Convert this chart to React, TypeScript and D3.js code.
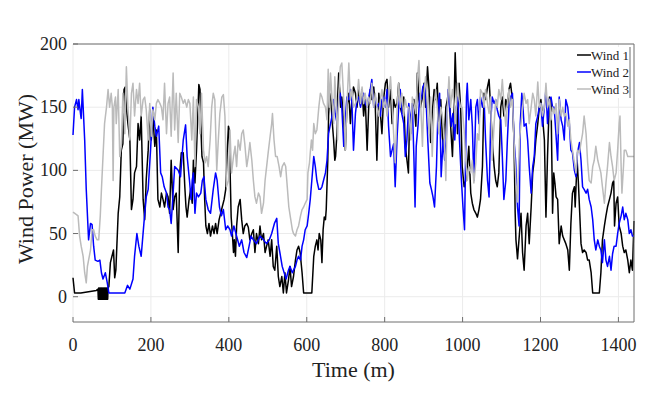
import React from "react";
import * as d3 from "d3";

const xTicks = [0, 200, 400, 600, 800, 1000, 1200, 1400];
const yTicks = [0, 50, 100, 150, 200];
const seriesNames = ["Wind 1", "Wind 2", "Wind 3"];
const seriesColors = ["#000000", "#0000ff", "#bbbbbb"];

const wind1: [number, number][] = [
  [0,15],[4,3],[20,3],[40,4],[60,5],[64,6],
  [65,-2],[66,7],[67,-2],[68,7],[69,-2],[70,7],[71,-2],[72,7],[73,-2],[74,7],[75,-2],[76,7],[77,-2],[78,7],[79,-2],[80,7],[81,-2],[82,7],[83,-2],[84,7],[85,-2],[86,7],[87,-2],[88,7],[89,-2],[90,7],
  [92,8],[96,27],[100,32],[104,37],[107,15],[110,21],[116,66],[120,79],[124,116],[128,121],[131,164],[134,166],[137,150],[141,137],[146,124],[150,69],[154,77],[158,98],[163,103],[167,137],[171,124],[175,143],[180,77],[184,61],[188,93],[193,116],[197,148],[201,124],[205,143],[210,119],[214,132],[218,77],[223,71],[227,82],[231,77],[235,71],[240,82],[244,79],[248,66],[252,108],[257,69],[261,79],[265,82],[270,35],[274,98],[278,114],
  [283,114],[287,87],[290,71],[293,63],[298,77],[302,85],[306,74],[309,108],[313,90],[317,116],[320,140],[323,168],[326,164],[328,137],[331,111],[335,106],[338,77],[341,56],[345,50],[349,58],[353,48],[358,56],[362,50],[366,58],[370,50],[375,61],[379,66],[383,71],[388,77],[392,85],[396,116],[399,135],[401,132],[403,103],[406,63],[409,50],[412,35],[414,45],[417,32],[420,56],[424,71],[429,77],[433,61],[437,50],[441,56],[446,58],[450,55],[454,45],[459,50],[463,53],[467,35],[471,50],[476,42],[480,56],[484,45],[489,50],[493,35],[497,40],[501,45],[506,32],[510,45],[514,24],[518,21],[523,40],[527,16],[531,8],[536,16],[540,3],[544,19],[548,3],[553,13],[557,24],[561,8],[566,16],[571,29],[575,37],[579,40],[583,35],[588,19],[592,3],[613,3],
  [618,32],[622,40],[626,45],[629,37],[632,50],[636,45],[639,27],[642,53],[645,63],[648,61],[650,69],[654,108],[656,143],[659,161],[662,156],[665,140],[669,124],[672,108],[674,111],[677,127],[679,156],[682,177],[685,161],[687,150],[690,158],[695,137],[699,116],[703,150],[708,161],[712,137],[716,156],[720,166],[725,161],[729,150],[733,164],[738,153],[742,164],[746,143],[750,158],[755,116],[759,150],[763,164],[767,156],[772,166],[776,150],[780,108],[785,161],[789,145],[793,129],[797,156],[802,169],[806,172],[810,150],[815,164],[819,137],[823,156],[827,150],[832,153],[836,169],[840,150],[844,145],[849,158],[853,119],
  [858,106],[861,98],[864,143],[867,129],[871,150],[875,156],[880,135],[884,177],[888,156],[892,150],[897,158],[901,169],[905,150],[910,182],[914,164],[918,122],[922,145],[927,164],[931,156],[935,169],[939,137],[944,156],[948,127],[952,116],[957,150],[961,156],[965,166],[969,137],[974,111],[978,150],[981,193],[984,164],[987,129],[991,169],[995,150],[999,103],[1004,87],[1008,92],[1012,103],[1016,119],[1021,82],[1025,74],[1029,69],[1034,66],[1038,63],[1042,69],[1046,77],[1051,103],[1055,161],[1059,156],[1064,166],[1068,172],[1072,150],[1076,124],[1081,103],[1085,92],[1089,87],[1093,98],[1098,150],[1102,158],[1106,143],[1111,156],[1115,150],[1119,164],[1123,169],[1128,156],[1132,124],[1135,66],[1137,45],[1141,30],
  [1146,50],[1150,66],[1154,35],[1158,21],[1163,56],[1167,66],[1171,42],[1176,71],[1180,98],[1184,108],[1188,124],[1193,137],[1197,150],[1201,156],[1205,143],[1210,124],[1214,63],[1218,111],[1223,158],[1227,156],[1231,66],[1234,98],[1237,90],[1240,79],[1244,77],[1248,42],[1253,56],[1257,48],[1261,45],[1265,42],[1270,37],[1274,21],[1278,58],[1282,82],[1287,87],[1289,71],[1294,108],[1297,92],[1300,71],[1304,42],[1308,35],[1312,37],[1317,35],[1321,29],[1325,29],[1330,19],[1334,3],[1351,3],[1355,19],[1359,45],[1364,56],[1368,64],[1372,71],[1377,77],[1381,82],[1385,90],[1388,92],[1390,56],[1394,74],[1398,79],[1402,56],[1407,50],[1411,40],[1415,35],[1419,37],[1424,29],[1428,19],[1432,29],[1436,21],[1440,60]
];

const wind2: [number, number][] = [
  [0,128],[4,150],[9,156],[13,148],[15,156],[20,143],[21,141],[24,164],[30,124],[34,85],[40,45],[45,58],[49,57],[53,40],[57,29],[64,28],[69,29],[73,19],[77,14],[83,19],[88,11],[92,3],[133,3],[140,9],[146,6],[154,14],[158,32],[164,50],[169,40],[175,32],[182,58],[188,79],[193,85],[199,116],[205,150],[210,135],[214,127],[220,135],[225,98],[229,95],[234,87],[240,82],[244,71],[248,69],[252,58],[257,82],[261,103],[270,100],[276,95],
  [283,124],[289,136],[293,111],[299,92],[303,77],[306,92],[309,98],[313,66],[317,82],[322,79],[328,82],[332,92],[336,95],[341,77],[347,69],[353,66],[360,85],[366,98],[370,92],[376,71],[381,64],[386,69],[392,53],[397,56],[403,53],[407,48],[413,56],[420,48],[427,40],[433,45],[439,35],[446,31],[452,40],[457,48],[463,45],[471,42],[480,48],[489,45],[497,42],[504,45],[510,50],[517,58],[523,62],[527,42],[531,35],[537,24],[542,19],[547,14],[553,21],[557,24],[563,19],
  [566,21],[571,24],[575,29],[579,32],[584,29],[588,40],[592,45],[596,53],[601,56],[605,66],[609,77],[613,92],[618,111],[622,103],[626,92],[631,85],[635,85],[639,87],[643,92],[648,98],[652,108],[656,129],[661,137],[665,143],[669,156],[673,145],[678,137],[682,156],[686,161],[690,150],[695,119],[699,140],[703,158],[708,156],[712,164],[716,153],[720,116],[725,145],[729,156],[733,158],[738,150],[742,156],[746,161],[750,153],[755,150],[759,158],[763,164],[767,172],[772,150],[776,158],[780,150],[785,153],[789,143],[793,156],[797,158],[802,150],[806,164],[810,135],[815,111],[819,116],[823,121],[827,87],[832,127],[836,150],[840,164],[844,145],[849,137],[853,111],[857,124],
  [862,153],[867,137],[871,153],[875,111],[878,71],[881,119],[886,137],[890,161],[894,156],[898,166],[903,169],[907,150],[911,122],[916,90],[920,85],[924,79],[928,71],[933,103],[937,150],[941,161],[945,95],[950,124],[954,108],[958,124],[963,164],[967,150],[971,135],[975,145],[980,124],[984,150],[988,158],[992,124],[997,92],[1001,71],[1005,53],[1010,158],[1012,169],[1016,140],[1021,156],[1025,135],[1029,92],[1034,150],[1038,156],[1042,137],[1046,158],[1051,150],[1055,158],[1059,124],[1064,92],[1068,79],[1072,137],[1076,158],[1081,153],[1085,156],[1089,148],[1093,143],[1098,140],[1102,111],[1106,77],[1111,92],[1115,124],[1119,150],[1123,158],[1128,161],[1132,124],[1136,108],[1141,71],[1145,56],
  [1148,137],[1152,161],[1155,150],[1158,135],[1163,137],[1167,124],[1171,103],[1176,82],[1180,103],[1184,111],[1188,137],[1193,143],[1197,150],[1201,153],[1205,135],[1210,150],[1214,164],[1218,137],[1223,156],[1227,158],[1231,150],[1235,150],[1240,127],[1244,108],[1248,158],[1253,140],[1257,135],[1261,124],[1265,156],[1270,150],[1274,137],[1278,116],[1282,114],[1287,100],[1291,95],[1295,114],[1300,122],[1304,108],[1308,87],[1312,85],[1317,82],[1321,85],[1325,77],[1330,71],[1334,61],[1338,45],[1342,37],[1347,45],[1351,40],[1355,37],[1359,27],[1364,45],[1368,29],[1372,24],[1377,32],[1381,21],[1385,34],[1389,40],[1394,40],[1398,50],[1402,58],[1407,64],[1411,71],[1415,61],[1419,66],[1424,61],[1428,50],[1432,53],[1436,48],[1440,48]
];

const wind3: [number, number][] = [
  [0,67],[9,65],[13,64],[17,48],[21,40],[26,32],[30,19],[34,11],[37,24],[40,29],[45,37],[49,53],[53,53],[57,48],[62,45],[66,45],[70,64],[73,85],[77,111],[81,137],[86,150],[90,164],[94,150],[98,161],[101,150],[103,92],[105,150],[109,158],[111,137],[116,164],[120,111],[124,119],[128,161],[133,129],[137,182],[141,150],[146,124],[150,161],[154,169],[158,143],[163,164],[167,153],[171,169],[175,143],[180,156],[184,158],[188,148],[193,124],[197,153],[201,127],[205,148],[210,140],[214,153],[218,156],[223,153],[227,150],[231,140],[235,169],[240,129],[244,153],[248,158],[252,127],[257,177],[261,132],[265,161],[270,122],[274,161],[278,158],
  [283,153],[287,156],[292,150],[296,156],[300,153],[305,124],[309,158],[313,103],[317,156],[322,150],[326,129],[330,161],[335,116],[339,106],[343,111],[347,103],[352,124],[356,150],[360,161],[364,156],[369,100],[373,124],[377,145],[382,158],[386,160],[390,143],[394,87],[399,92],[403,132],[407,98],[412,111],[416,119],[420,103],[424,124],[429,116],[433,129],[437,132],[441,121],[446,103],[450,111],[454,122],[459,108],[463,92],[467,79],[471,74],[476,82],[480,79],[484,66],[489,74],[493,92],[497,103],[501,114],[506,127],[510,137],[512,145],[516,124],[520,111],[524,111],[529,103],[533,95],[537,103],[542,106],[546,103],[550,87],[554,71],[559,61],[563,53],
  [566,50],[571,48],[575,53],[579,56],[584,64],[588,69],[592,71],[596,74],[601,77],[603,98],[607,106],[609,114],[612,124],[615,116],[618,137],[622,129],[626,132],[631,150],[635,161],[639,158],[643,153],[648,150],[652,140],[655,180],[658,150],[661,177],[665,156],[669,137],[672,174],[676,150],[679,124],[682,158],[686,182],[690,185],[695,156],[699,116],[703,150],[708,185],[712,156],[716,164],[720,150],[725,153],[729,156],[733,172],[738,153],[742,166],[746,153],[750,161],[755,150],[759,158],[763,153],[767,169],[772,150],[776,161],[780,150],[785,143],[789,156],[793,164],[797,150],[802,156],[806,143],[810,156],[815,174],[819,153],[823,129],[827,106],[832,150],[836,169],[840,150],[844,161],[849,143],[853,156],[857,150],
  [862,150],[867,124],[871,158],[875,153],[880,145],[884,172],[888,187],[892,156],[897,119],[901,161],[905,174],[910,150],[914,129],[918,158],[922,111],[927,150],[931,164],[935,150],[939,129],[944,150],[948,143],[952,132],[957,92],[961,150],[965,174],[969,150],[974,164],[978,153],[982,137],[987,169],[991,156],[995,150],[999,150],[1004,132],[1008,108],[1012,92],[1016,103],[1021,98],[1025,108],[1029,90],[1034,106],[1038,129],[1042,124],[1046,164],[1051,161],[1055,150],[1059,164],[1064,153],[1068,145],[1072,158],[1076,108],[1081,137],[1085,156],[1089,150],[1093,164],[1098,156],[1102,172],[1106,153],[1111,135],[1115,153],[1119,164],[1123,150],[1128,156],[1132,124],[1137,90],[1141,75],
  [1146,124],[1150,137],[1154,150],[1158,161],[1163,153],[1167,156],[1171,137],[1176,150],[1180,161],[1184,156],[1188,143],[1193,170],[1197,150],[1201,153],[1205,143],[1210,150],[1214,169],[1218,150],[1223,156],[1227,140],[1231,150],[1235,145],[1240,153],[1244,129],[1248,156],[1253,143],[1257,150],[1261,143],[1265,145],[1270,135],[1274,140],[1278,124],[1282,116],[1287,106],[1291,98],[1295,116],[1300,114],[1304,122],[1308,129],[1312,143],[1317,129],[1321,106],[1325,92],[1330,90],[1334,103],[1338,108],[1342,119],[1347,108],[1351,103],[1355,98],[1359,87],[1364,74],[1368,90],[1372,103],[1377,122],[1381,111],[1385,103],[1389,92],[1394,98],[1398,116],[1402,137],[1404,143],[1407,103],[1409,82],[1413,103],[1415,116],[1419,116],[1424,111],[1428,111],[1432,111],[1440,111]
];

const W = 664;
const H = 393;
const left = 73, right = 634, top = 44, bottom = 322;
const FONT = "Liberation Serif, Times New Roman, DejaVu Serif, serif";
const AXIS = "#6e6e6e";
const GRID = "#ebebeb";
const TXT = { fontFamily: FONT };

export default function App() {
  const x = d3.scaleLinear().domain([0, 1440]).range([left, right]);
  const y = d3.scaleLinear().domain([-20, 200]).range([bottom, top]);
  const line = d3
    .line<[number, number]>()
    .x((d) => x(d[0]))
    .y((d) => y(d[1]));
  const series = [wind1, wind2, wind3];

  return (
    <svg
      width={W}
      height={H}
      style={{ position: "absolute", left: 0, top: 0, background: "#fff", fontFamily: FONT }}
    >
      <rect x={0} y={0} width={W} height={H} fill="#fff" />
      {xTicks.map((t) => (
        <line key={"gx" + t} x1={x(t)} x2={x(t)} y1={top} y2={bottom} stroke={GRID} strokeWidth={1} />
      ))}
      {yTicks.map((t) => (
        <line key={"gy" + t} x1={left} x2={right} y1={y(t)} y2={y(t)} stroke={GRID} strokeWidth={1} />
      ))}
      {series.map((s, i) => (
        <path
          key={seriesNames[i]}
          d={line(s) || ""}
          fill="none"
          stroke={seriesColors[i]}
          strokeWidth={1.5}
          strokeLinejoin="round"
        />
      ))}
      <line x1={left} x2={right} y1={top} y2={top} stroke={AXIS} strokeWidth={1} />
      <line x1={right} x2={right} y1={top} y2={bottom} stroke={AXIS} strokeWidth={1} />
      <line x1={left} x2={right} y1={bottom} y2={bottom} stroke={AXIS} strokeWidth={1} />
      {xTicks.map((t) => (
        <g key={"tx" + t}>
          <line x1={x(t)} x2={x(t)} y1={bottom} y2={bottom - 5} stroke={AXIS} />
          <text x={x(t)} y={345} fontSize={18} textAnchor="middle" dominantBaseline="central" fill="#222" style={TXT}>
            {t}
          </text>
        </g>
      ))}
      {yTicks.map((t) => (
        <g key={"ty" + t}>
          <line x1={left} x2={left + 5} y1={y(t)} y2={y(t)} stroke={AXIS} />
          <text x={67} y={y(t)} fontSize={18} textAnchor="end" dominantBaseline="central" fill="#222" style={TXT}>
            {t}
          </text>
        </g>
      ))}
      <text x={(left + right) / 2} y={369} fontSize={22} textAnchor="middle" dominantBaseline="central" fill="#222" style={TXT}>
        Time (m)
      </text>
      <text
        transform={`translate(25, 179) rotate(-90)`}
        fontSize={22}
        textAnchor="middle"
        dominantBaseline="central"
        fill="#222"
        style={TXT}
      >
        Wind Power (MW)
      </text>
      <rect x={573} y={47} width={57} height={51} fill="#fff" />
      <line x1={630} x2={630} y1={47} y2={98} stroke={AXIS} strokeWidth={1} />
      {seriesNames.map((n, i) => (
        <g key={"lg" + n}>
          <line x1={577} x2={591} y1={55 + i * 17} y2={55 + i * 17} stroke={seriesColors[i]} strokeWidth={1.5} />
          <text x={591} y={55 + i * 17} fontSize={13} dominantBaseline="central" fill="#222" style={TXT}>
            {n}
          </text>
        </g>
      ))}
    </svg>
  );
}
